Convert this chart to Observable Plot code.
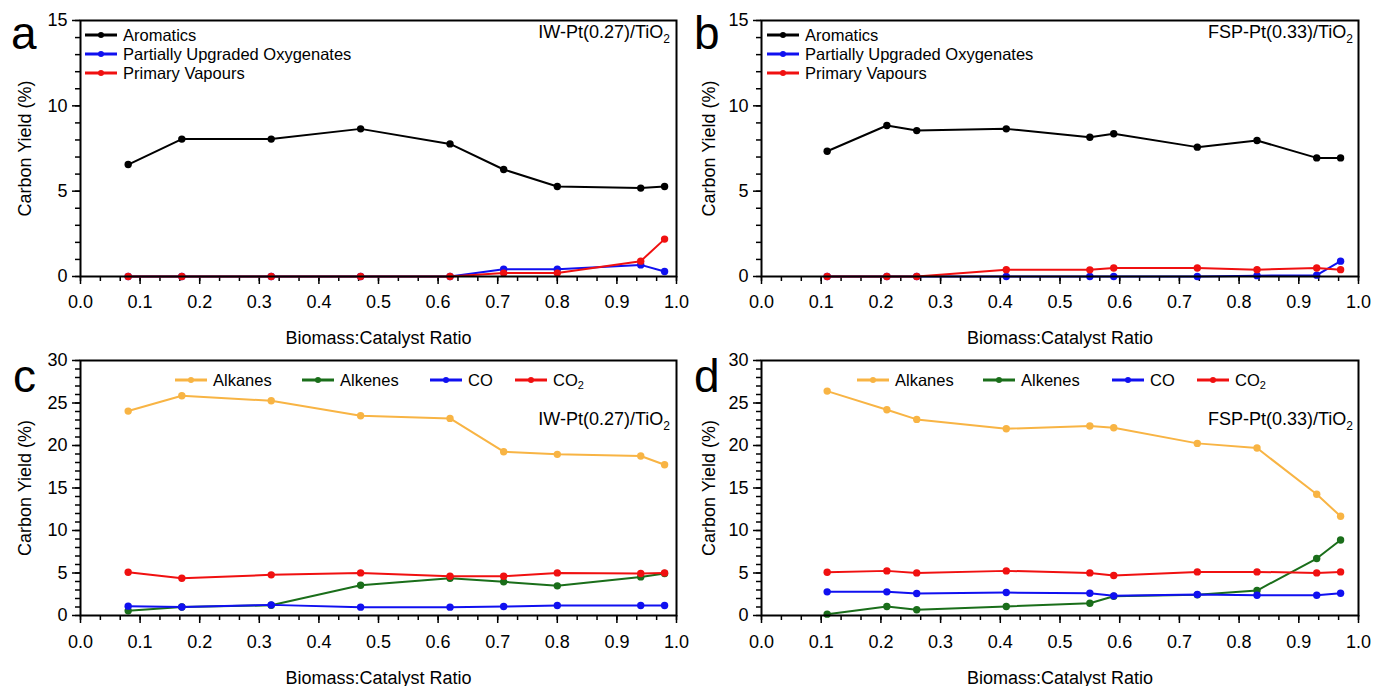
<!DOCTYPE html>
<html>
<head>
<meta charset="utf-8">
<script src="https://cdn.jsdelivr.net/npm/d3@7"></script>
<script src="https://cdn.jsdelivr.net/npm/@observablehq/plot@0.6"></script>
<style>
  body { margin: 0; background: #fff; font-family: "Liberation Sans", Arial, sans-serif; }
  #wrap { position: relative; width: 1374px; height: 686px; overflow: hidden; background: #fff; }
  .panel { position: absolute; }
  .panel svg { display: block; overflow: visible; background: none; }
  .letter { position: absolute; font-size: 46px; line-height: 1; color: #000; }
  .note { position: absolute; font-size: 18px; line-height: 1; white-space: nowrap; color: #000; }
  .note .sub { font-size: 12px; position: relative; top: 5px; }
  .leg { position: absolute; font-size: 16.5px; line-height: 1; color: #000; display: flex; align-items: center; white-space: nowrap; }
  .leg svg { display: block; margin-right: 6px; }
  .leg .sub { font-size: 11px; position: relative; top: 5px; }
</style>
</head>
<body>
<div id="wrap"></div>
<script>
// ---------- data ----------
const xTopA = [0.08, 0.17, 0.32, 0.47, 0.62, 0.71, 0.80, 0.94, 0.98];
const aromaticsA = [6.56, 8.05, 8.05, 8.65, 7.77, 6.27, 5.27, 5.18, 5.27];
const oxygenatesA = [0, 0, 0, 0, 0, 0.43, 0.43, 0.68, 0.29];
const vapoursA = [0, 0, 0, 0, 0, 0.2, 0.2, 0.9, 2.19];

const xTopB = [0.11, 0.21, 0.26, 0.41, 0.55, 0.59, 0.73, 0.83, 0.93, 0.97];
const aromaticsB = [7.34, 8.85, 8.55, 8.65, 8.16, 8.36, 7.58, 7.97, 6.95, 6.95];
const oxygenatesB = [0, 0, 0, 0, 0, 0, 0, 0.05, 0.08, 0.9];
const vapoursB = [0, 0, 0, 0.4, 0.39, 0.5, 0.5, 0.4, 0.5, 0.4];

const alkanesC = [24.05, 25.85, 25.26, 23.5, 23.19, 19.27, 18.96, 18.76, 17.74];
const alkenesC = [0.55, 1.0, 1.2, 3.56, 4.39, 3.96, 3.49, 4.54, 4.94];
const coC = [1.1, 1.0, 1.25, 0.98, 0.98, 1.06, 1.17, 1.17, 1.17];
const co2C = [5.09, 4.39, 4.78, 5.01, 4.62, 4.62, 5.01, 4.94, 5.01];

const alkanesD = [26.4, 24.2, 23.07, 21.97, 22.29, 22.09, 20.25, 19.7, 14.26, 11.67];
const alkenesD = [0.16, 1.06, 0.67, 1.06, 1.45, 2.27, 2.43, 2.94, 6.7, 8.89];
const coD = [2.78, 2.78, 2.59, 2.7, 2.62, 2.31, 2.47, 2.39, 2.39, 2.62];
const co2D = [5.09, 5.25, 5.01, 5.25, 5.01, 4.7, 5.13, 5.13, 5.01, 5.13];

const topSeries = ["Aromatics", "Partially Upgraded Oxygenates", "Primary Vapours"];
const topColors = ["#000000", "#1010f0", "#f01010"];
const botSeries = ["Alkanes", "Alkenes", "CO", "CO2"];
const botColors = ["#f8b444", "#1a6e1a", "#1010f0", "#f01010"];

const xMajorTicks = [0, 0.1, 0.2, 0.3, 0.4, 0.5, 0.6, 0.7, 0.8, 0.9, 1.0];
const yTopTicks = [0, 5, 10, 15];
const yBotTicks = [0, 5, 10, 15, 20, 25, 30];
const xLabel = "Biomass:Catalyst Ratio";
const yLabel = "Carbon Yield (%)";

// ---------- helpers ----------
function rowsOf(xs, names, values) {
  return names.map((name, k) => xs.map((x, i) => ({x, y: values[k][i], series: name})));
}

function makePanel({left, top, width, height, margins, xs, names, colors, values, yMax, yTicks, xLabelOffset, yLabelOffset, tickPadX}) {
  const groups = rowsOf(xs, names, values);
  const xMinor = d3.range(0, 31).map(i => i / 30);
  const yMinor = d3.range(0, yMax + 1);
  const seriesMarks = groups.flatMap(rows => [
    Plot.line(rows, {x: "x", y: "y", stroke: "series", strokeWidth: 2}),
    Plot.dot(rows, {x: "x", y: "y", fill: "series", r: 3.7})
  ]);
  const svg = Plot.plot({
    width, height,
    marginLeft: margins[3], marginRight: margins[1], marginTop: margins[0], marginBottom: margins[2],
    style: {fontFamily: "'Liberation Sans', Arial, sans-serif", fontSize: "18px", color: "#000", background: "none", overflow: "visible"},
    x: {domain: [0, 1]},
    y: {domain: [0, yMax]},
    color: {domain: names, range: colors},
    marks: [
      Plot.axisX({ticks: xMinor, tickSize: 5, text: null, strokeWidth: 1.5, label: null}),
      Plot.axisX({ticks: xMajorTicks, tickSize: 8, strokeWidth: 1.5, tickPadding: tickPadX, fontSize: 18,
        tickFormat: d3.format(".1f"), label: xLabel, labelAnchor: "center", labelOffset: xLabelOffset, labelArrow: false}),
      Plot.axisY({ticks: yMinor, tickSize: 5, text: null, strokeWidth: 1.5, label: null}),
      Plot.axisY({ticks: yTicks, tickSize: 8, strokeWidth: 1.5, tickPadding: 5, fontSize: 18,
        label: yLabel, labelAnchor: "center", labelOffset: yLabelOffset, labelArrow: false}),
      ...seriesMarks,
      Plot.frame({stroke: "#000", strokeWidth: 2})
    ]
  });
  const div = document.createElement("div");
  div.className = "panel";
  div.style.left = left + "px";
  div.style.top = top + "px";
  div.appendChild(svg);
  document.getElementById("wrap").appendChild(div);
}

function addHTML(cls, html, style) {
  const d = document.createElement("div");
  d.className = cls;
  d.innerHTML = html;
  Object.assign(d.style, style);
  document.getElementById("wrap").appendChild(d);
}

function swatch(color) {
  return `<svg width="32" height="10"><line x1="0" x2="32" y1="5" y2="5" stroke="${color}" stroke-width="3"/><circle cx="16" cy="5" r="3" fill="${color}"/></svg>`;
}
function labelHTML(name) {
  return name === "CO2" ? 'CO<span class="sub">2</span>' : name;
}

// ---------- panels ----------
makePanel({left: 0, top: 0, width: 687, height: 345, margins: [20, 11, 69, 80],
  xs: xTopA, names: topSeries, colors: topColors, values: [aromaticsA, oxygenatesA, vapoursA],
  yMax: 15, yTicks: yTopTicks, xLabelOffset: 67, yLabelOffset: 62, tickPadX: 11});
makePanel({left: 687, top: 0, width: 687, height: 345, margins: [20, 16, 69, 74],
  xs: xTopB, names: topSeries, colors: topColors, values: [aromaticsB, oxygenatesB, vapoursB],
  yMax: 15, yTicks: yTopTicks, xLabelOffset: 67, yLabelOffset: 59, tickPadX: 11});
makePanel({left: 0, top: 345, width: 687, height: 341, margins: [15, 11, 71, 80],
  xs: xTopA, names: botSeries, colors: botColors, values: [alkanesC, alkenesC, coC, co2C],
  yMax: 30, yTicks: yBotTicks, xLabelOffset: 68, yLabelOffset: 62, tickPadX: 12});
makePanel({left: 687, top: 345, width: 687, height: 341, margins: [15, 16, 71, 74],
  xs: xTopB, names: botSeries, colors: botColors, values: [alkanesD, alkenesD, coD, co2D],
  yMax: 30, yTicks: yBotTicks, xLabelOffset: 68, yLabelOffset: 59, tickPadX: 12});

// panel letters
addHTML("letter", "a", {left: "11px", top: "10px"});
addHTML("letter", "b", {left: "694px", top: "10px"});
addHTML("letter", "c", {left: "13px", top: "353px"});
addHTML("letter", "d", {left: "694px", top: "353px"});

// catalyst notes
const noteA = 'IW-Pt(0.27)/TiO<span class="sub">2</span>';
const noteB = 'FSP-Pt(0.33)/TiO<span class="sub">2</span>';
addHTML("note", noteA, {right: (1374 - 670) + "px", top: "23px"});
addHTML("note", noteB, {right: (1374 - 1353) + "px", top: "23px"});
addHTML("note", noteA, {right: (1374 - 670) + "px", top: "410px"});
addHTML("note", noteB, {right: (1374 - 1353) + "px", top: "410px"});

// legends (top panels: vertical)
[[85, 0], [767, 0]].forEach(([lx]) => {
  topSeries.forEach((name, i) => {
    addHTML("leg", swatch(topColors[i]) + labelHTML(name), {left: lx + "px", top: (27 + 19 * i) + "px"});
  });
});
// legends (bottom panels: horizontal)
const legXc = [175, 302, 430, 515];
const legXd = [857, 983, 1112, 1197];
[legXc, legXd].forEach(xsL => {
  botSeries.forEach((name, i) => {
    addHTML("leg", swatch(botColors[i]) + labelHTML(name), {left: xsL[i] + "px", top: "372px"});
  });
});
</script>
</body>
</html>
